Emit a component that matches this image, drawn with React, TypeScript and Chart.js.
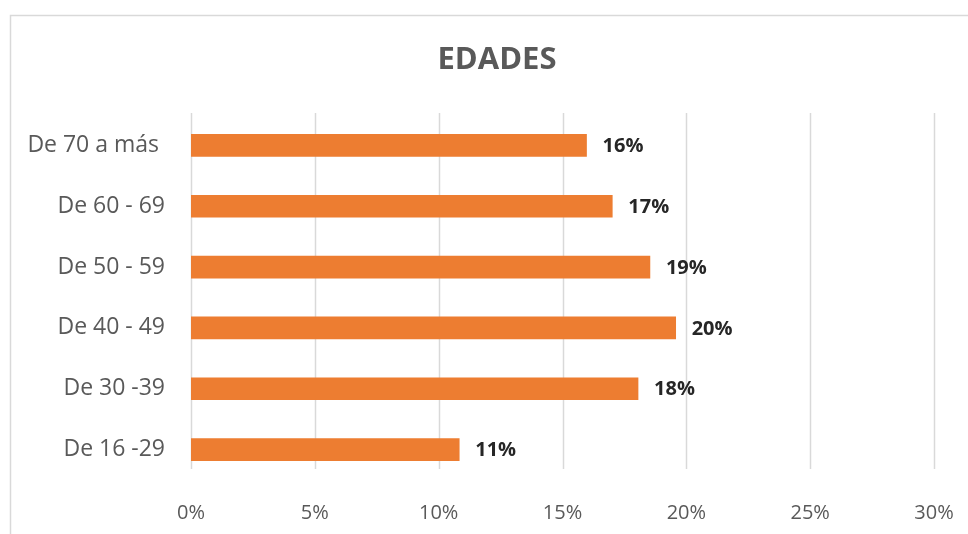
import React, { useEffect, useRef } from "react";
import Chart from "chart.js/auto";

const categories = ["De 70 a más ", "De 60 - 69", "De 50 - 59", "De 40 - 49", "De 30 -39", "De 16 -29"];
const values = [15.97, 17.01, 18.53, 19.57, 18.05, 10.83];
const xTicks = [0, 5, 10, 15, 20, 25, 30];
const chartTitle = "EDADES";

const FONT = "'Open Sans', 'DejaVu Sans', sans-serif";

const framePlugin = {
  id: "frame",
  beforeDraw(chart: any) {
    const ctx = chart.ctx;
    ctx.save();
    ctx.fillStyle = "#ffffff";
    ctx.fillRect(0, 0, chart.width, chart.height);
    ctx.strokeStyle = "#d9d9d9";
    ctx.lineWidth = 1.5;
    ctx.beginPath();
    ctx.moveTo(10.5, chart.height);
    ctx.lineTo(10.5, 15.5);
    ctx.lineTo(chart.width, 15.5);
    ctx.stroke();
    // vertical gridlines through the x scale
    const xs = chart.scales.x;
    const area = chart.chartArea;
    ctx.strokeStyle = "#d9d9d9";
    ctx.lineWidth = 1.5;
    xs.ticks.forEach((t: any) => {
      const px = Math.round(xs.getPixelForValue(t.value)) + 0.5;
      ctx.beginPath();
      ctx.moveTo(px, area.top - 2);
      ctx.lineTo(px, area.bottom - 11);
      ctx.stroke();
    });
    ctx.restore();
  },
  afterDraw(chart: any) {
    const ctx = chart.ctx;
    ctx.save();
    ctx.fillStyle = "#595959";
    ctx.font = `bold 31px ${FONT}`;
    ctx.textAlign = "center";
    ctx.textBaseline = "middle";
    ctx.fillText(chartTitle, chart.width / 2 + 13, 60);
    ctx.restore();
  },
};

const labelPlugin = {
  id: "barLabels",
  afterDatasetsDraw(chart: any) {
    const ctx = chart.ctx;
    const meta = chart.getDatasetMeta(0);
    ctx.save();
    ctx.fillStyle = "#262626";
    ctx.font = `bold 20px ${FONT}`;
    ctx.textAlign = "left";
    ctx.textBaseline = "middle";
    meta.data.forEach((bar: any, i: number) => {
      const v = chart.data.datasets[0].data[i] as number;
      ctx.fillText(Math.round(v) + "%", bar.x + 16, bar.y + 1);
    });
    ctx.restore();
  },
};

export default function App() {
  const ref = useRef<HTMLCanvasElement | null>(null);
  useEffect(() => {
    if (!ref.current) return;
    const chart = new Chart(ref.current, {
      type: "bar",
      data: {
        labels: categories,
        datasets: [
          {
            data: values,
            backgroundColor: "#ED7D31",
            borderWidth: 0,
            barThickness: 22,
          },
        ],
      },
      options: {
        indexAxis: "y",
        animation: false,
        responsive: false,
        devicePixelRatio: 1,
        layout: { padding: { top: 115, right: 34, left: 0, bottom: 0 } },
        plugins: {
          legend: { display: false },
          title: { display: false },
          tooltip: { enabled: false },
        },
        scales: {
          x: {
            min: 0,
            max: 30,
            afterFit(scale: any) {
              scale.height = 54;
              scale.paddingLeft = 0;
              scale.paddingRight = 0;
            },
            afterBuildTicks(scale: any) {
              scale.ticks = xTicks.map((v) => ({ value: v }));
            },
            ticks: {
              callback: (v: any) => v + "%",
              color: "#595959",
              font: { family: FONT, size: 20 },
              padding: 21,
              maxRotation: 0,
            },
            grid: { display: false, drawTicks: false },
            border: { display: false },
          },
          y: {
            afterFit(scale: any) {
              scale.width = 191;
              scale.paddingTop = 0;
              scale.paddingBottom = 0;
            },
            ticks: {
              color: "#595959",
              font: { family: FONT, size: 23 },
              padding: 26,
            },
            grid: { display: false, drawTicks: false },
            border: { display: false },
          },
        },
      },
      plugins: [framePlugin, labelPlugin],
    });
    return () => chart.destroy();
  }, []);
  return (
    <div style={{ position: "absolute", left: 0, top: 0, width: 968, height: 534 }}>
      <canvas ref={ref} width={968} height={534} style={{ display: "block" }} />
    </div>
  );
}
